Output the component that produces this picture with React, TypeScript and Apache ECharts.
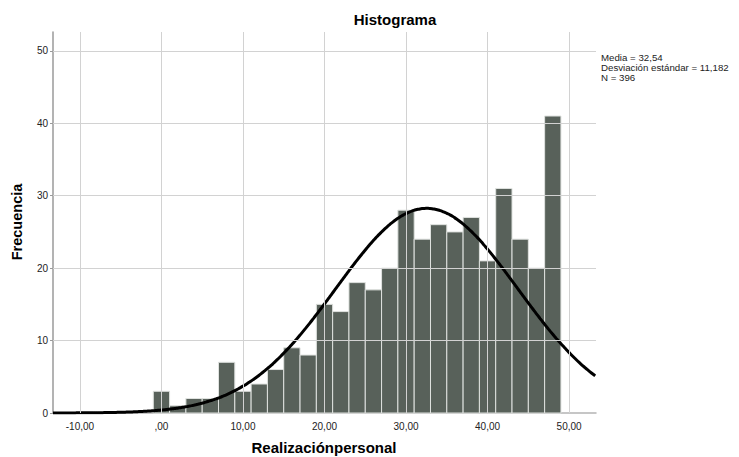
import React, { useEffect, useRef } from "react";
import * as echarts from "echarts";

// Histogram data (bin centers, width 2)
const BIN_CENTERS = [0, 2, 4, 6, 8, 10, 12, 14, 16, 18, 20, 22, 24, 26, 28, 30, 32, 34, 36, 38, 40, 42, 44, 46, 48];
const COUNTS = [3, 1, 2, 2, 7, 3, 4, 6, 9, 8, 15, 14, 18, 17, 20, 28, 24, 26, 25, 27, 21, 31, 24, 20, 41];
const BIN_WIDTH = 2;

// Summary statistics shown in the chart
const MEAN = 32.54;
const SD = 11.182;
const N = 396;
const STATS_LINES = ["Media = 32,54", "Desviación estándar = 11,182", "N = 396"];

// Axis ticks / extents
const X_TICKS = [-10, 0, 10, 20, 30, 40, 50];
const Y_TICKS = [10, 20, 30, 40, 50];
const X_MIN = -13.3;
const X_MAX = 53.3;
const Y_MAX = 52.6;

const FONT = "'Liberation Sans', Arial, sans-serif";

export default function App() {
  const ref = useRef<HTMLDivElement>(null);

  useEffect(() => {
    if (!ref.current) return;
    const chart = echarts.init(ref.current, null, { renderer: "svg" });

    const bars = BIN_CENTERS.map((c, i) => [c - BIN_WIDTH / 2, c + BIN_WIDTH / 2, COUNTS[i]]);

    // fitted normal curve from the stated mean / sd / N
    const curve: number[][] = [];
    const k = (N * BIN_WIDTH) / (SD * Math.sqrt(2 * Math.PI));
    for (let x = X_MIN; x <= X_MAX + 1e-9; x += 0.25) {
      const z = (x - MEAN) / SD;
      curve.push([x, k * Math.exp(-0.5 * z * z)]);
    }

    const fmtX = (v: number) => {
      if (Math.abs(v % 10) > 1e-6) return "";
      if (v === 0) return ",00";
      return v.toFixed(2).replace(".", ",");
    };

    chart.setOption({
      animation: false,
      grid: { left: 53, right: 143, top: 32, bottom: 44 },
      xAxis: {
        type: "value",
        min: X_MIN,
        max: X_MAX,
        minInterval: 10,
        maxInterval: 10,
        splitLine: { show: false },
        axisTick: { show: false },
        axisLine: { show: true, onZero: false, lineStyle: { color: "#b4b4b4", width: 1.5 } },
        axisLabel: {
          showMinLabel: false,
          showMaxLabel: false,
          formatter: fmtX,
          color: "#222",
          fontFamily: FONT,
          fontSize: 10,
          margin: 8,
        },
      },
      yAxis: {
        type: "value",
        min: 0,
        max: Y_MAX,
        minInterval: 10,
        maxInterval: 10,
        splitLine: { show: false },
        axisTick: { show: true, length: 3, lineStyle: { color: "#9a9a9a" } },
        axisLine: { show: true, onZero: false, lineStyle: { color: "#9a9a9a", width: 1.5 } },
        axisLabel: {
          showMaxLabel: false,
          formatter: (v: number) => (Math.abs(v % 10) < 1e-6 ? String(v) : ""),
          color: "#222",
          fontFamily: FONT,
          fontSize: 10,
          margin: 5,
        },
      },
      graphic: [
        {
          type: "text",
          x: 395,
          y: 19,
          style: {
            text: "Histograma",
            font: `bold 15px ${FONT}`,
            fill: "#000",
            align: "center",
            verticalAlign: "middle",
          },
        },
        {
          type: "text",
          x: 17,
          y: 222,
          rotation: Math.PI / 2,
          style: {
            text: "Frecuencia",
            font: `bold 14.5px ${FONT}`,
            fill: "#000",
            align: "center",
            verticalAlign: "middle",
          },
        },
        {
          type: "text",
          x: 324,
          y: 447,
          style: {
            text: "Realizaciónpersonal",
            font: `bold 15px ${FONT}`,
            fill: "#000",
            align: "center",
            verticalAlign: "middle",
          },
        },
        ...STATS_LINES.map((t, i) => ({
          type: "text",
          x: 601,
          y: 57.5 + i * 10,
          style: {
            text: t,
            font: `9.7px ${FONT}`,
            fill: "#222",
            align: "left",
            verticalAlign: "middle",
          },
        })),
      ],
      series: [
        {
          type: "line",
          data: [],
          z: 1,
          silent: true,
          markLine: {
            silent: true,
            symbol: "none",
            label: { show: false },
            lineStyle: { color: "#d2d2d2", width: 1, type: "solid" },
            data: [
              ...X_TICKS.map((v) => ({ xAxis: v })),
              ...Y_TICKS.map((v) => ({ yAxis: v })),
            ],
          },
        },
        {
          type: "custom",
          z: 2,
          data: bars,
          encode: { x: [0, 1], y: 2 },
          renderItem: (params: any, api: any) => {
            const x0 = api.value(0);
            const x1 = api.value(1);
            const c = api.value(2);
            const p0 = api.coord([x0, c]);
            const p1 = api.coord([x1, 0]);
            return {
              type: "rect",
              shape: { x: p0[0], y: p0[1], width: p1[0] - p0[0], height: p1[1] - p0[1] },
              style: { fill: "#58615a", stroke: "#dfe2df", lineWidth: 1 },
            };
          },
        },
        {
          type: "line",
          z: 3,
          data: curve,
          showSymbol: false,
          symbol: "none",
          smooth: true,
          lineStyle: { color: "#000", width: 3 },
        },
      ],
    });

    return () => chart.dispose();
  }, []);

  return (
    <div
      ref={ref}
      style={{ position: "fixed", left: 0, top: 0, width: 739, height: 457, background: "#fff" }}
    />
  );
}
